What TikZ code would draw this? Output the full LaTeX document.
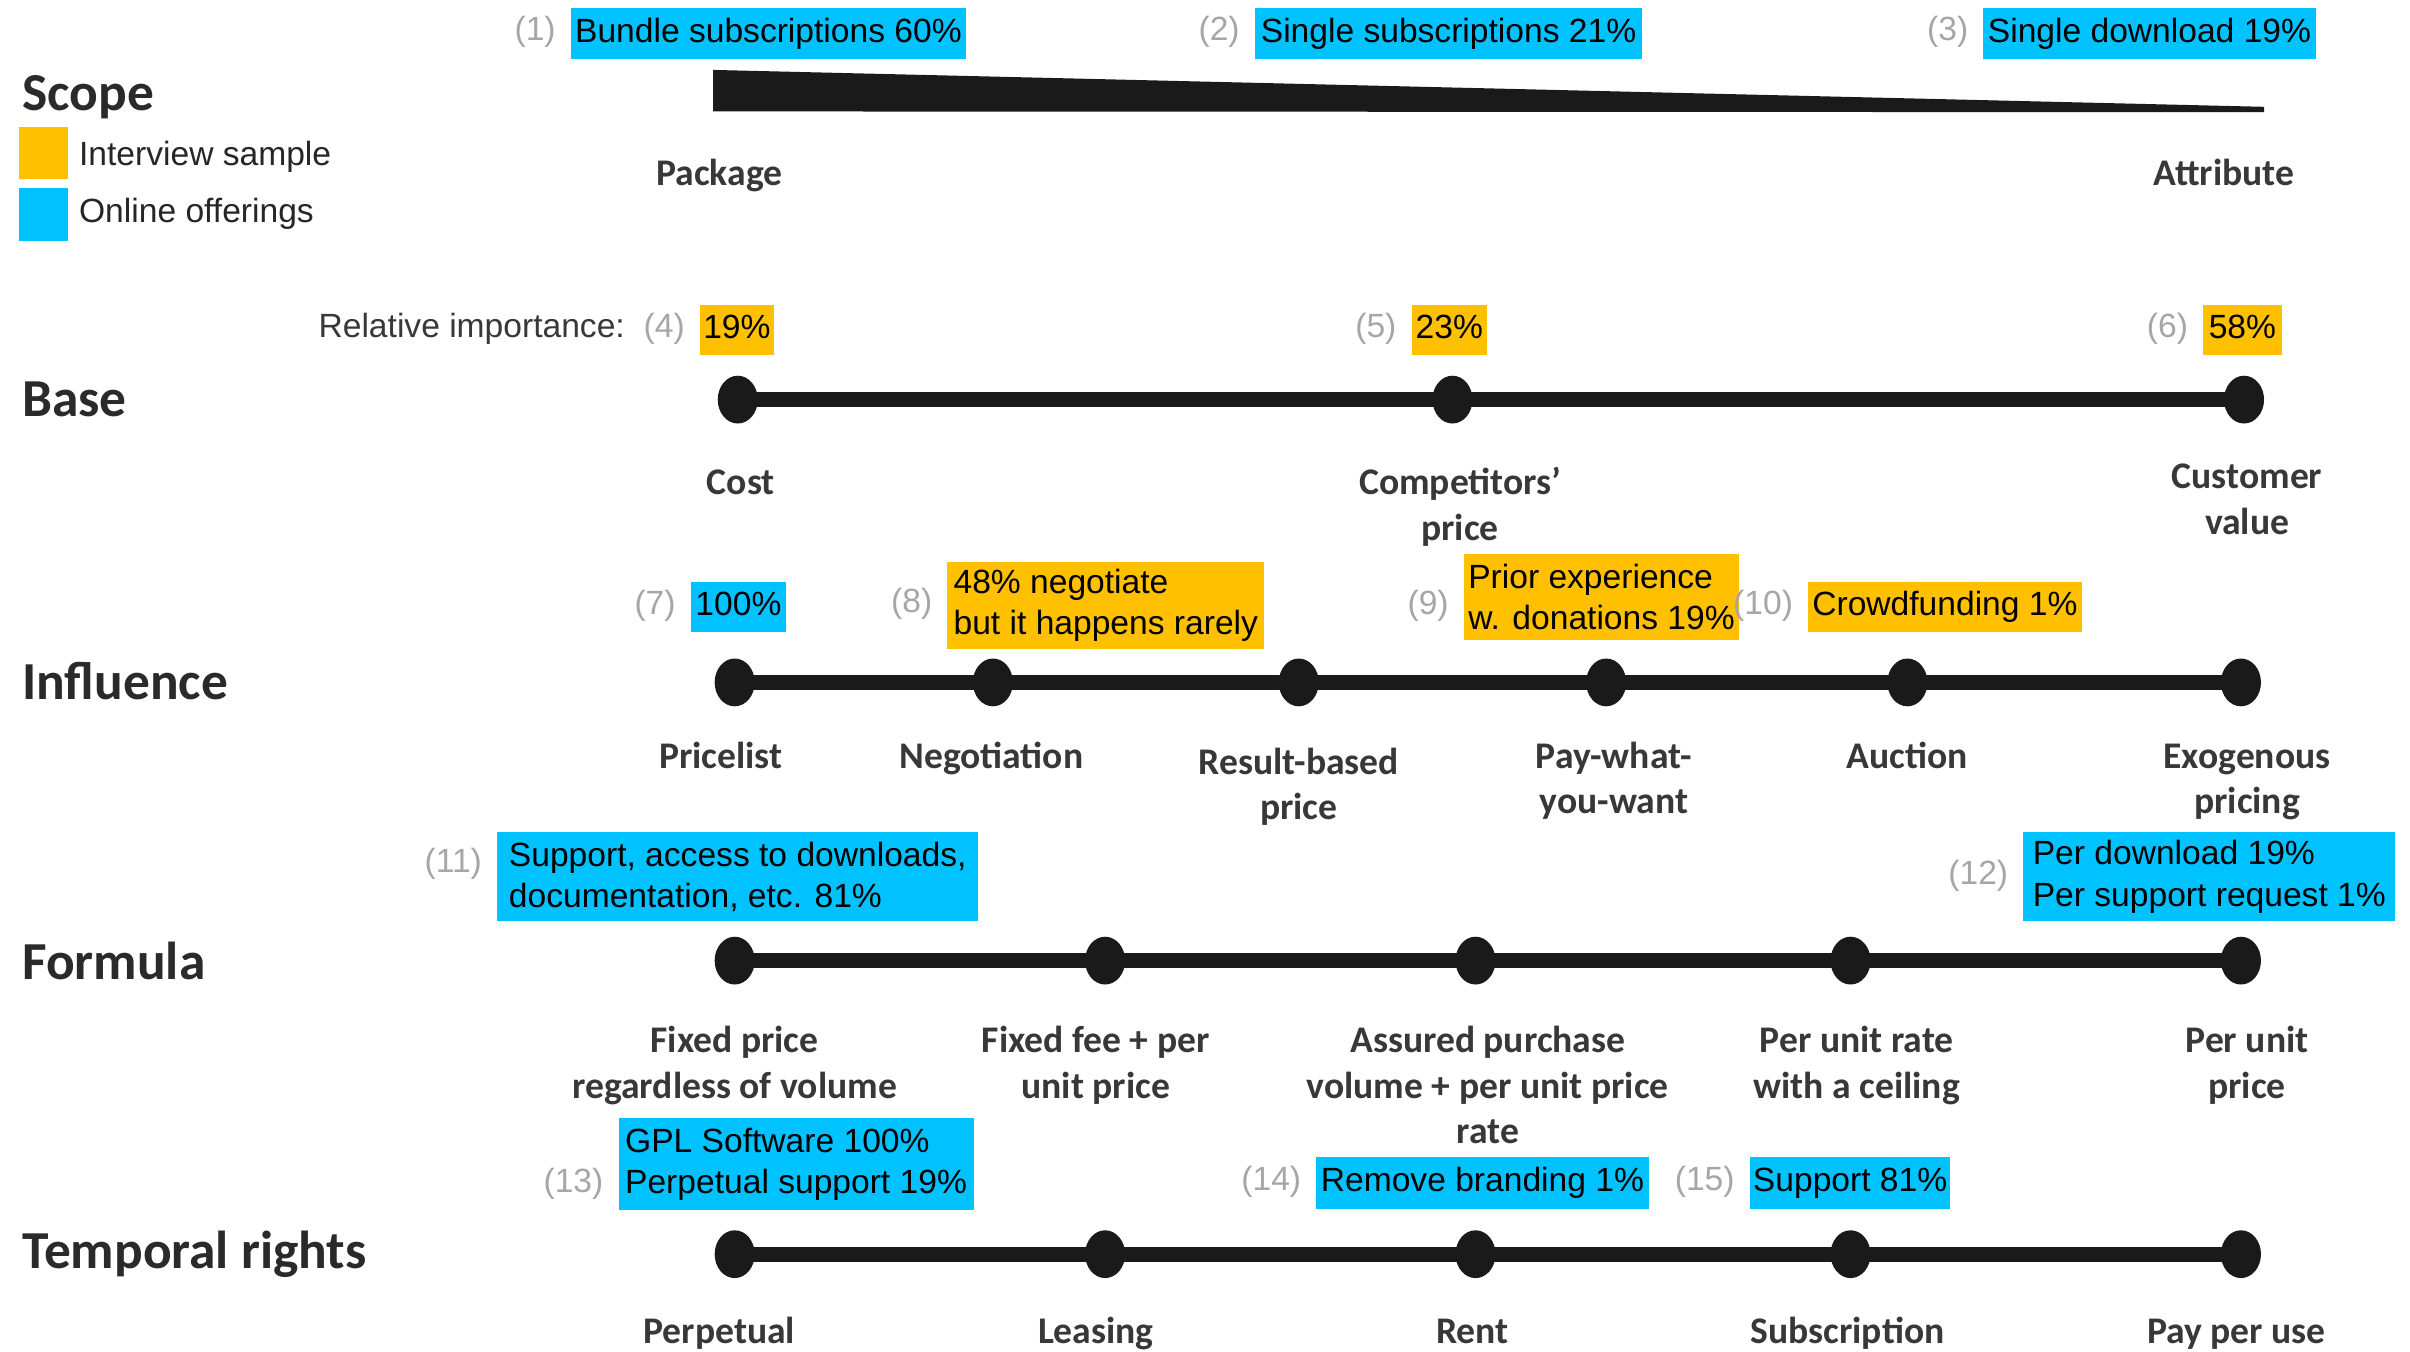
\documentclass[tikz,border=0pt]{standalone}
\usepackage{fontspec}
\setmainfont{Liberation Sans}
\newfontfamily\lblfont{Carlito}
\usetikzlibrary{shapes.geometric}
\definecolor{hlblue}{HTML}{00C2FF}
\definecolor{hlgold}{HTML}{FFC000}
\definecolor{barcol}{HTML}{1A1A1A}
\definecolor{lblcol}{HTML}{383838}
\definecolor{ttlcol}{HTML}{2A2A2A}
\definecolor{numgray}{HTML}{A6A6A6}
\definecolor{txtcol}{HTML}{262626}
\begin{document}
\begin{tikzpicture}[x=0.4373pt,y=-0.4373pt,
  title/.style={anchor=base west,inner sep=0pt,text=ttlcol,font=\lblfont\bfseries\fontsize{15.2}{18}\selectfont},
  % multi-line labels are anchored at the baseline of their last line
  lbl/.style={anchor=base,inner sep=0pt,align=center,text=lblcol,font=\lblfont\bfseries\fontsize{10.7}{12.9}\selectfont},
  hl/.style={anchor=north west,inner xsep=0.9pt,inner ysep=0pt,align=left,text=black,font=\fontsize{9.56}{11.8}\selectfont},
  one/.style={text height=7pt,text depth=2pt,minimum height=14.3pt},
  blu/.style={hl,fill=hlblue},
  gld/.style={hl,fill=hlgold},
  num/.style={anchor=east,inner sep=0pt,text=numgray,font=\fontsize{9.56}{11.8}\selectfont},
  plain/.style={inner sep=0pt,text=txtcol,font=\fontsize{9.56}{11.8}\selectfont},
  dot/.style={ellipse,fill=barcol,inner sep=0pt,minimum width=11.4pt,minimum height=13.6pt},
  track/.style={draw=barcol,line width=4.2pt},
  swatch/.style={anchor=north west,inner sep=0pt,minimum width=14pt,minimum height=15pt},
]
\useasboundingbox (0,0) rectangle (1568,879);
\fill[white] (0,0) rectangle (1568,879);

% ---------- legend ----------
\node[title] (tScope) at (14,72) {Scope};
\node[swatch,fill=hlgold] (swA) at (12,82) {};
\node[swatch,fill=hlblue] (swB) at (12,122) {};
\node[plain,anchor=base west] (lgA) at (51,107.6) {Interview sample};
\node[plain,anchor=base west] (lgB) at (51,144.6) {Online offerings};

% ---------- scope ----------
\node[blu,one,minimum width=112.4pt] (b1) at (371,5) {Bundle subscriptions 60\%};
\node[num] (n1) at (362,21) {(1)};
\node[blu,one,minimum width=110.2pt] (b2) at (816,5) {Single subscriptions 21\%};
\node[num] (n2) at (807,21) {(2)};
\node[blu,one,minimum width=94.5pt] (b3) at (1290,5) {Single download 19\%};
\node[num] (n3) at (1281,21) {(3)};
\fill[barcol] (464,45.5) -- (1473,69.5) -- (1473,73) -- (464,72.5) -- cycle;
\node[lbl] (pk) at (468,121) {Package};
\node[lbl] (at) at (1447,121) {Attribute};

% ---------- base ----------
\node[title] (tBase) at (14,271) {Base};
\node[plain,anchor=east,text=lblcol] (ri) at (407,214) {Relative importance:};
\node[gld,one,minimum width=21pt] (b4) at (455,198) {19\%};
\node[num] (n4) at (446,214) {(4)};
\node[gld,one,minimum width=21.4pt] (b5) at (918,198) {23\%};
\node[num] (n5) at (909,214) {(5)};
\node[gld,one,minimum width=22.3pt] (b6) at (1433,198) {58\%};
\node[num] (n6) at (1424,214) {(6)};
\node[dot] (a1) at (480,260) {};
\node[dot] (a2) at (945,260) {};
\node[dot] (a3) at (1460,260) {};
\draw[track] (a1.center) -- (a3.center);
\node[lbl] (la1) at (482,322) {Cost};
\node[lbl] (la2) at (950,351.5) {Competitors’\\price};
\node[lbl] (la3) at (1462,347.5) {Customer\\value};

% ---------- influence ----------
\node[title] (tInf) at (14,455) {Influence};
\node[blu,one,minimum width=27.1pt] (b7) at (449,378) {100\%};
\node[num] (n7) at (440,394) {(7)};
\node[gld,minimum width=90.1pt,minimum height=24.9pt] (b8) at (616,365) {48\% negotiate\\but it happens rarely};
\node[num] (n8) at (607,393) {(8)};
\node[gld,minimum width=78.3pt,minimum height=24.5pt] (b9) at (952,360) {Prior experience\\w. donations 19\%};
\node[num] (n9) at (943,394) {(9)};
\node[gld,one,minimum width=77.8pt] (b10) at (1176,378) {Crowdfunding 1\%};
\node[num] (n10) at (1167,394) {(10)};
\node[dot] (i1) at (478,444) {};
\node[dot] (i2) at (646,444) {};
\node[dot] (i3) at (845,444) {};
\node[dot] (i4) at (1045,444) {};
\node[dot] (i5) at (1241,444) {};
\node[dot] (i6) at (1458,444) {};
\draw[track] (i1.center) -- (i6.center);
\node[lbl] (li1) at (469,500) {Pricelist};
\node[lbl] (li2) at (645,500) {Negotiation};
\node[lbl] (li3) at (845,533.5) {Result-based\\price};
\node[lbl] (li4) at (1050,529.5) {Pay-what-\\you-want};
\node[lbl] (li5) at (1241,500) {Auction};
\node[lbl] (li6) at (1462,529.5) {Exogenous\\pricing};

% ---------- formula ----------
\node[title] (tFor) at (14,637) {Formula};
\node[blu,minimum width=136.9pt,minimum height=25.4pt] (b11) at (323,541) {Support, access to downloads,\\documentation, etc. 81\%};
\node[num] (n11) at (314,562) {(11)};
\node[blu,minimum width=105.8pt,minimum height=25.4pt] (b12) at (1316,541) {Per download 19\%\\Per support request 1\%};
\node[num] (n12) at (1307,570) {(12)};
\node[dot] (f1) at (478,625) {};
\node[dot] (f2) at (719,625) {};
\node[dot] (f3) at (960,625) {};
\node[dot] (f4) at (1204,625) {};
\node[dot] (f5) at (1458,625) {};
\draw[track] (f1.center) -- (f5.center);
\node[lbl] (lf1) at (478,714.5) {Fixed price\\regardless of volume};
\node[lbl] (lf2) at (713,714.5) {Fixed fee + per\\unit price};
\node[lbl] (lf3) at (968,744) {Assured purchase\\volume + per unit price\\rate};
\node[lbl] (lf4) at (1208,714.5) {Per unit rate\\with a ceiling};
\node[lbl] (lf5) at (1462,714.5) {Per unit\\price};

% ---------- temporal rights ----------
\node[title] (tTem) at (14,825) {Temporal rights};
\node[blu,minimum width=101pt,minimum height=26.2pt] (b13) at (402,727) {GPL Software 100\%\\Perpetual support 19\%};
\node[num] (n13) at (393,770) {(13)};
\node[blu,one,minimum width=94.5pt,minimum height=14.9pt] (b14) at (856,752) {Remove branding 1\%};
\node[num] (n14) at (847,769) {(14)};
\node[blu,one,minimum width=56.9pt,minimum height=14.9pt] (b15) at (1138,752) {Support 81\%};
\node[num] (n15) at (1129,769) {(15)};
\node[dot] (r1) at (478,816) {};
\node[dot] (r2) at (719,816) {};
\node[dot] (r3) at (960,816) {};
\node[dot] (r4) at (1204,816) {};
\node[dot] (r5) at (1458,816) {};
\draw[track] (r1.center) -- (r5.center);
\node[lbl] (lr1) at (468,874) {Perpetual};
\node[lbl] (lr2) at (713,874) {Leasing};
\node[lbl] (lr3) at (958,874) {Rent};
\node[lbl] (lr4) at (1202,874) {Subscription};
\node[lbl] (lr5) at (1455,874) {Pay per use};
\end{tikzpicture}
\end{document}
